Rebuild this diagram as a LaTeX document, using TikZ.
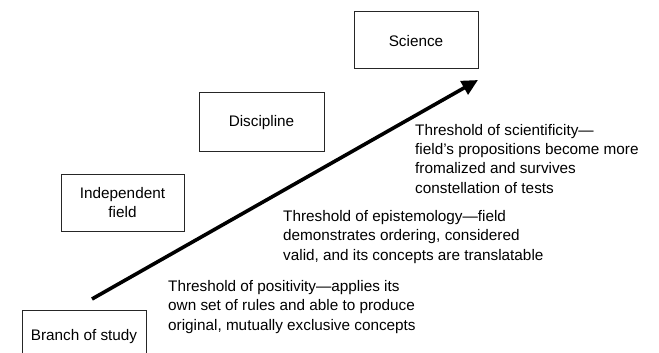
\documentclass[tikz,border=0pt]{standalone}
\usepackage{fontspec}
\setmainfont{Liberation Sans}
\usetikzlibrary{arrows.meta}
\begin{document}
\begin{tikzpicture}[x=1pt,y=-1pt,
  stagebox/.style={draw=black!85,line width=0.9pt,fill=white,inner sep=0pt},
  lbl/.style={anchor=base,inner sep=0pt,align=center,font=\fontsize{15.3}{19}\selectfont},
  note/.style={anchor=base west,inner sep=0pt,align=left,font=\fontsize{15.3}{19.3}\selectfont}]
\useasboundingbox (0,0) rectangle (659,353);
\node[stagebox,minimum width=124pt,minimum height=70pt] (branch) at (84,345) {};
\node[lbl] (branchlbl) at (84,340) {Branch of study};
\node[stagebox,minimum width=123pt,minimum height=57pt] (indep) at (122.5,202.5) {};
\node[lbl] (indeplbl) at (122.5,217) {Independent\\field};
\node[stagebox,minimum width=125pt,minimum height=59pt] (disc) at (261.5,121.5) {};
\node[lbl] (disclbl) at (261.5,126) {Discipline};
\node[stagebox,minimum width=124pt,minimum height=57pt] (sci) at (416,39.5) {};
\node[lbl] (scilbl) at (416,47) {Science};
\coordinate (tail) at (92,299);
\coordinate (tip) at (478,80);
\draw[line width=3.6pt,-{Triangle[length=16pt,width=15pt]}] (tail) -- (tip);
\node[note] (pos) at (168,330) {Threshold of positivity---applies its\\own set of rules and able to produce\\original, mutually exclusive concepts};
\node[note] (epi) at (283,260) {Threshold of epistemology---field\\demonstrates ordering, considered\\valid, and its concepts are translatable};
\node[note] (scien) at (415,193) {Threshold of scientificity---\\field’s propositions become more\\fromalized and survives\\constellation of tests};
\end{tikzpicture}
\end{document}
